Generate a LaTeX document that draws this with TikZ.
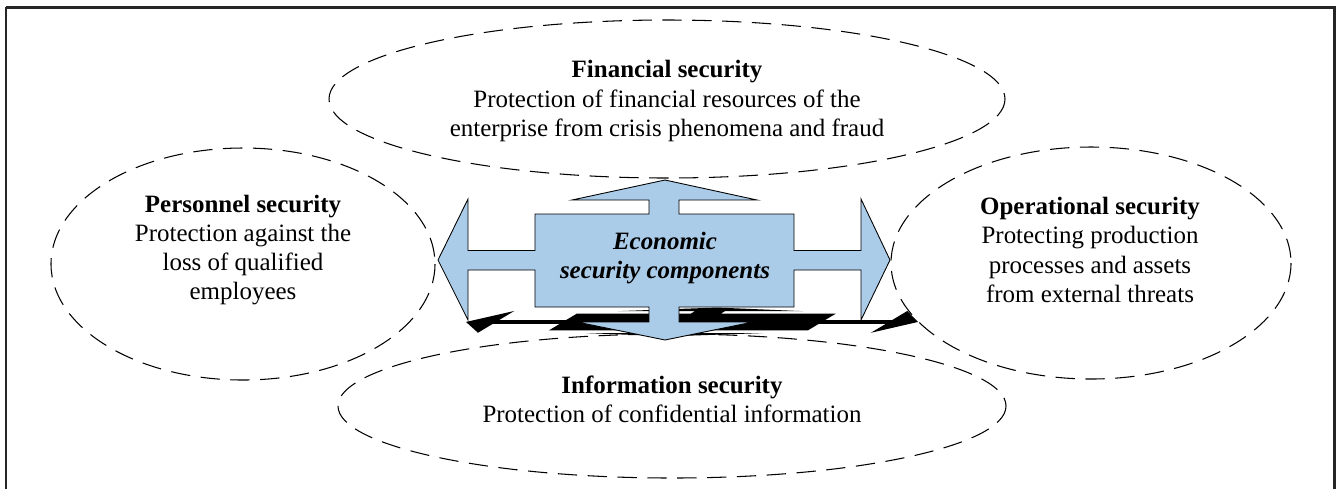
\documentclass[tikz,border=0pt]{standalone}
\usepackage{fontspec}
\setmainfont{Liberation Serif}
\usetikzlibrary{positioning}

\definecolor{armblue}{RGB}{171,204,233}

\newcommand{\quadarrow}{(438,260) -- (468,199) -- (468,250.5) -- (535,250.5) -- (535,214) -- (649,214) -- (649,200) -- (572,200) -- (665,180) -- (757,200) -- (679,200) -- (679,214) -- (794,214) -- (794,250.5) -- (861,250.5) -- (861,199) -- (890,260) -- (861,320) -- (861,270) -- (794,270) -- (794,307) -- (679,307) -- (679,322) -- (753,322) -- (665,340) -- (577,322) -- (649,322) -- (649,307) -- (535,307) -- (535,270) -- (468,270) -- (468,320) -- cycle}

\tikzset{
  zone/.style={dashed, dash pattern=on 11pt off 6pt, line width=0.6pt},
  txt/.style={align=center, font=\fontsize{14.2}{16.6}\selectfont}
}

\begin{document}
\begin{tikzpicture}[x=0.02cm, y=-0.02cm]
\useasboundingbox (0,0) rectangle (1338,488);
\draw[line width=1.7pt, black!85] (6,7) -- (1334,7) -- (1334,500) (6,7) -- (6,500);

\draw[zone] (667,99) ellipse (338 and 79);
\draw[zone] (243,264) ellipse (192 and 116);
\draw[zone] (1091,263) ellipse (200 and 116);
\draw[zone] (672,406) ellipse (334 and 72);

\fill[black, cm={1,0,0.3,0.18,(2.12cm,-5.504cm)}] \quadarrow;
\draw[fill=armblue, line width=0.5pt] \quadarrow;

\node[txt] (fin) at (667,101) {\textbf{Financial security}\\Protection of financial resources of the\\enterprise from crisis phenomena and fraud};
\node[txt] (pers) at (243,250) {\textbf{Personnel security}\\Protection against the\\loss of qualified\\employees};
\node[txt] (oper) at (1090,250) {\textbf{Operational security}\\Protecting production\\processes and assets\\from external threats};
\node[txt] (info) at (672,399) {\textbf{Information security}\\Protection of confidential information};
\node[txt] (econ) at (665,258) {\textbf{\textit{Economic}}\\\textbf{\textit{security components}}};

\end{tikzpicture}
\end{document}
